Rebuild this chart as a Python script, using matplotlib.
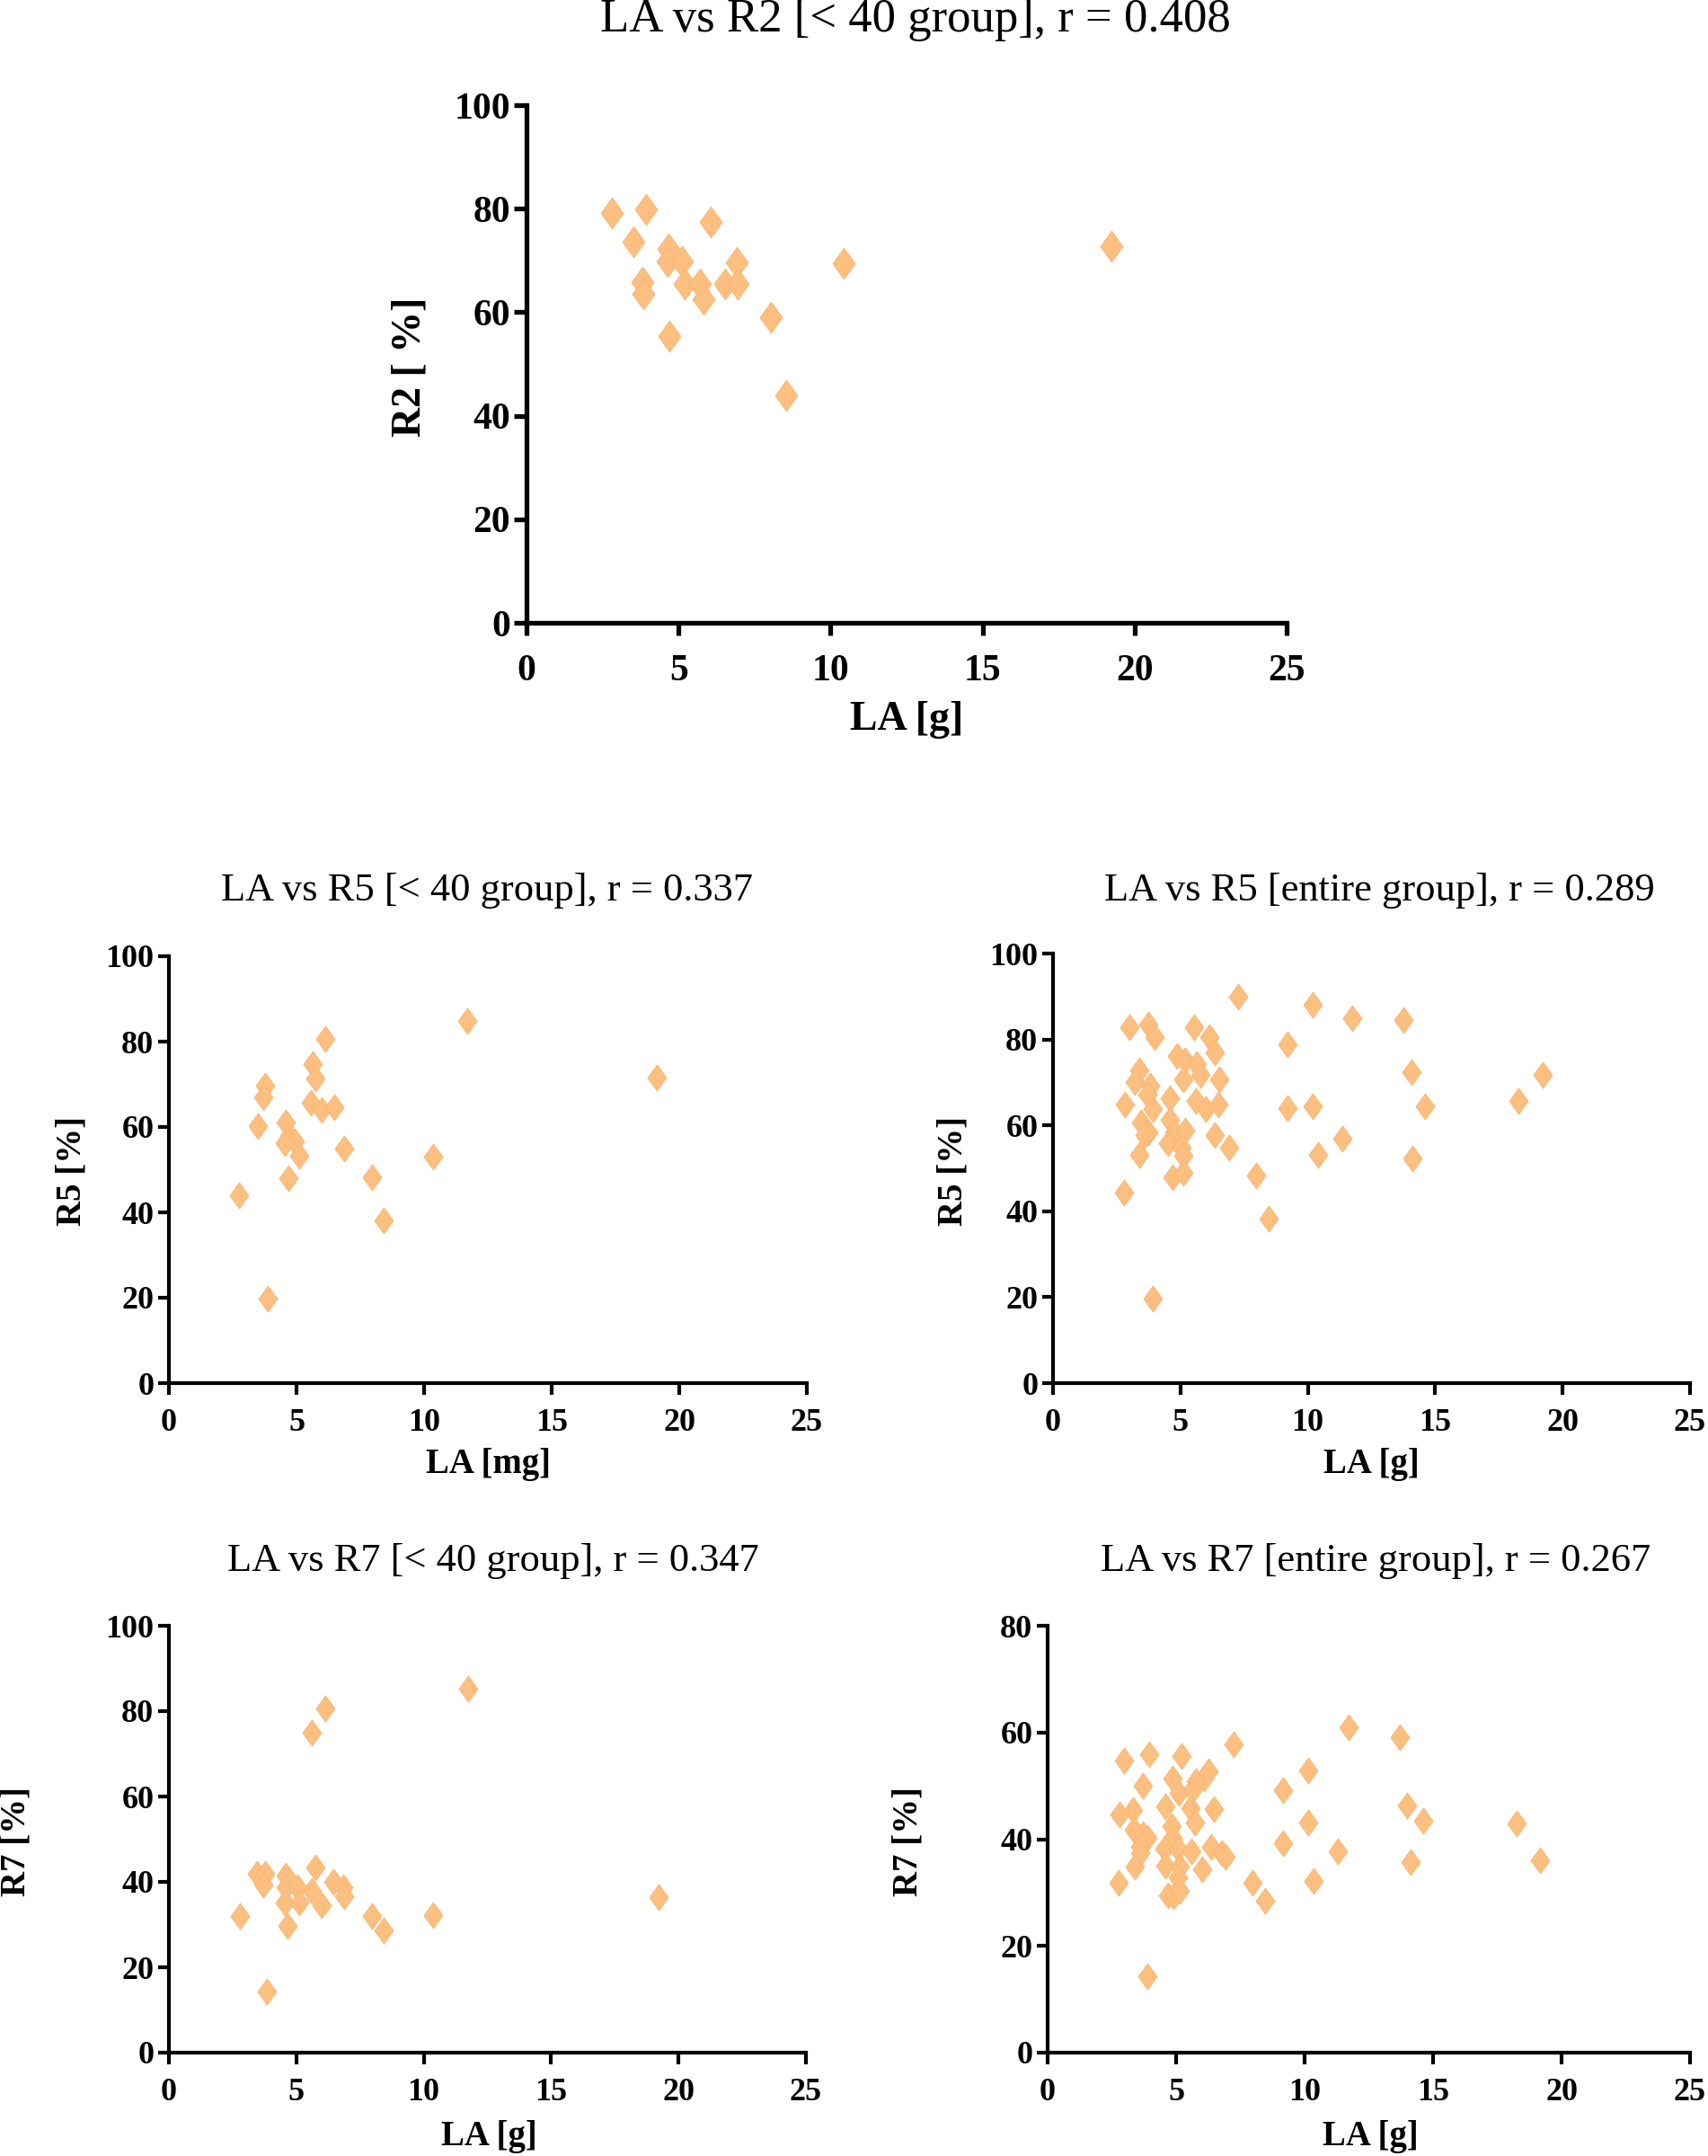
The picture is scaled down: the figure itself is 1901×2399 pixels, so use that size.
"""LA vs R2 / R5 / R7 scatter plots (5 panels)."""
import matplotlib
matplotlib.use("Agg")
import matplotlib.pyplot as plt

plt.rcParams['font.family'] = ['Liberation Serif', 'DejaVu Serif']

# ---- data ----
# LA vs R2, < 40 group
la_r2 = [2.80, 3.94, 3.53, 3.80, 3.84, 4.67, 4.63, 5.12, 5.19, 4.71,
         5.71, 5.83, 6.06, 6.54, 6.91, 6.95, 8.03, 8.53, 10.44, 19.23]
r2 = [79.1, 79.9, 73.6, 65.8, 63.5, 72.3, 69.8, 69.8, 65.4, 55.3,
      65.4, 62.5, 77.5, 65.4, 69.6, 65.4, 59.0, 43.9, 69.4, 72.8]

# LA vs R5, < 40 group
la_r5_lt40 = [11.70, 6.12, 5.62, 5.74, 19.11, 3.75, 3.70, 5.57, 6.00, 6.47,
              3.48, 4.58, 4.72, 4.94, 4.55, 5.11, 6.85, 10.36, 4.67, 7.96,
              2.76, 8.43, 3.87]
r5_lt40 = [84.9, 80.6, 74.7, 71.3, 71.6, 69.7, 66.9, 65.7, 64.0, 64.7,
           60.2, 61.0, 58.0, 56.6, 56.2, 53.3, 55.0, 53.1, 48.1, 48.3,
           44.1, 38.1, 19.7]

# LA vs R5, entire group
la_r5_all = [7.28, 10.19, 11.73, 13.74, 3.00, 3.73, 3.99, 5.55, 6.15, 6.36,
             9.19, 4.85, 5.20, 5.63, 5.80, 5.11, 3.38, 3.21, 3.81, 3.69,
             6.53, 14.07, 19.20, 4.59, 2.82, 3.90, 5.60, 5.98, 6.50, 9.22,
             10.19, 14.61, 18.28, 3.47, 3.73, 3.60, 4.59, 4.77, 5.20, 4.51,
             5.03, 5.11, 6.36, 6.90, 11.35, 10.40, 14.12, 3.38, 4.68, 5.11,
             7.97, 2.77, 8.46, 3.90]
r5_all = [90.0, 88.1, 85.0, 84.5, 82.9, 83.4, 80.5, 82.9, 80.5, 76.9,
          78.8, 76.1, 75.1, 74.3, 71.8, 70.7, 72.9, 70.0, 69.3, 67.1,
          70.7, 72.3, 71.8, 66.4, 64.9, 63.8, 65.7, 63.8, 64.9, 64.1,
          64.4, 64.4, 65.7, 60.6, 58.4, 57.7, 61.3, 58.4, 58.8, 55.9,
          54.8, 53.0, 57.7, 54.8, 57.0, 53.1, 52.4, 53.1, 47.9, 49.0,
          48.3, 44.3, 38.3, 19.7]

# LA vs R7, < 40 group
la_r7_lt40 = [11.75, 6.13, 5.62, 5.74, 3.46, 3.77, 3.70, 4.57, 4.57, 5.05,
              5.62, 6.47, 6.85, 6.88, 4.54, 5.10, 5.99, 2.77, 7.96, 10.38,
              19.23, 4.66, 8.44, 3.85]
r7_lt40 = [85.2, 80.6, 74.9, 43.4, 41.8, 41.8, 39.4, 41.5, 38.7, 38.7,
           38.0, 40.1, 38.7, 36.6, 35.2, 35.2, 34.5, 32.0, 32.0, 32.2,
           36.4, 29.6, 28.7, 14.4]

# LA vs R7, entire group
la_r7_all = [11.72, 13.71, 7.25, 2.96, 3.95, 5.21, 10.14, 6.27, 6.10, 5.76,
             3.69, 4.85, 5.10, 9.16, 5.62, 4.59, 5.55, 6.48, 14.00, 3.32,
             2.78, 5.72, 10.15, 14.60, 18.25, 4.81, 3.35, 3.69, 3.87, 4.86,
             9.16, 3.61, 4.55, 5.07, 5.58, 6.36, 6.79, 6.92, 11.31, 14.12,
             19.16, 3.61, 3.38, 4.59, 5.15, 6.01, 5.07, 2.75, 7.96, 10.36,
             4.69, 4.90, 5.15, 8.45, 3.87]
r7_all = [60.9, 59.1, 57.7, 54.8, 55.9, 55.6, 52.9, 52.8, 51.4, 50.8,
          50.1, 51.4, 48.6, 49.1, 49.1, 46.2, 45.8, 45.7, 46.3, 45.5,
          44.6, 43.2, 43.2, 43.4, 42.9, 42.4, 41.8, 41.0, 40.2, 40.2,
          39.3, 38.5, 38.2, 38.2, 37.7, 38.5, 37.4, 36.8, 37.7, 35.7,
          36.1, 37.4, 34.9, 35.0, 34.9, 34.3, 32.9, 31.9, 31.9, 32.1,
          29.5, 29.3, 30.4, 28.5, 14.3]

x_ticks = [0, 5, 10, 15, 20, 25]
y_ticks_100 = [0, 20, 40, 60, 80, 100]
y_ticks_80 = [0, 20, 40, 60, 80]

W, H = 1901, 2399
fig = plt.figure(figsize=(W / 100, H / 100), dpi=100)

color = '#FCBF7F'
diamond = [(0, 0.5), (0.36, 0), (0, -0.5), (-0.36, 0), (0, 0.5)]


def fx(px):
    return px / W


def fy(py):
    return 1 - py / H


def panel(box, xs, ys, yticks, title, title_xy, xlabel, xlab_xy, ylabel, ylab_xy,
          tick_fs, lab_fs, title_fs, lw, ms, tick_len, xpad):
    # box = (left, top, right, bottom) in pixels
    l, t, r, b = box
    ax = fig.add_axes([fx(l), fy(b), fx(r) - fx(l), fy(t) - fy(b)])
    ax.plot(xs, ys, linestyle='none', marker=diamond, markersize=ms,
            markerfacecolor=color, markeredgecolor='#F7B673', markeredgewidth=0.6,
            clip_on=False)
    ax.set_xlim(0, 25)
    ax.set_ylim(0, yticks[-1])
    ax.set_xticks(x_ticks)
    ax.set_yticks(yticks)
    for s in ['top', 'right']:
        ax.spines[s].set_visible(False)
    for s in ['left', 'bottom']:
        ax.spines[s].set_linewidth(lw)
    ax.tick_params(direction='out', length=tick_len, width=lw, labelsize=tick_fs, pad=3)
    ax.tick_params(axis='x', pad=xpad)
    for lab in ax.get_xticklabels() + ax.get_yticklabels():
        lab.set_fontweight('bold')
    ax.set_xlabel(xlabel, fontsize=lab_fs, fontweight='bold')
    ax.set_ylabel(ylabel, fontsize=lab_fs, fontweight='bold')
    ax.xaxis.set_label_coords(fx(xlab_xy[0]), fy(xlab_xy[1]), transform=fig.transFigure)
    ax.yaxis.set_label_coords(fx(ylab_xy[0]), fy(ylab_xy[1]), transform=fig.transFigure)
    ax.xaxis.label.set_va('center')
    ax.yaxis.label.set_va('center')
    fig.text(fx(title_xy[0]), fy(title_xy[1]), title, fontsize=title_fs,
             ha='center', va='center')
    return ax


panel((586, 117, 1432, 693), la_r2, r2, y_ticks_100,
      "LA vs R2 [< 40 group], r = 0.408", (1019, 22),
      "LA [g]", (1009, 801), "R2 [ %]", (456, 408),
      30, 33, 38, 3.8, 25, 10, 15)

panel((188, 1064, 898, 1539), la_r5_lt40, r5_lt40, y_ticks_100,
      "LA vs R5 [< 40 group], r = 0.337", (542, 991),
      "LA [mg]", (543, 1630), "R5 [%]", (80, 1303),
      26, 28, 32, 3.0, 21, 9, 11)

panel((1172, 1061, 1881, 1539), la_r5_all, r5_all, y_ticks_100,
      "LA vs R5 [entire group], r = 0.289", (1535, 991),
      "LA [g]", (1526, 1630), "R5 [%]", (1061, 1303),
      26, 28, 32, 3.0, 21, 9, 11)

panel((188, 1809, 897, 2284), la_r7_lt40, r7_lt40, y_ticks_100,
      "LA vs R7 [< 40 group], r = 0.347", (549, 1737),
      "LA [g]", (544, 2377), "R7 [%]", (18, 2049),
      26, 28, 32, 3.0, 21, 9, 11)

panel((1166, 1809, 1881, 2284), la_r7_all, r7_all, y_ticks_80,
      "LA vs R7 [entire group], r = 0.267", (1531, 1737),
      "LA [g]", (1525, 2377), "R7 [%]", (1011, 2049),
      26, 28, 32, 3.0, 21, 9, 11)

fig.savefig('out.png', dpi=100)
